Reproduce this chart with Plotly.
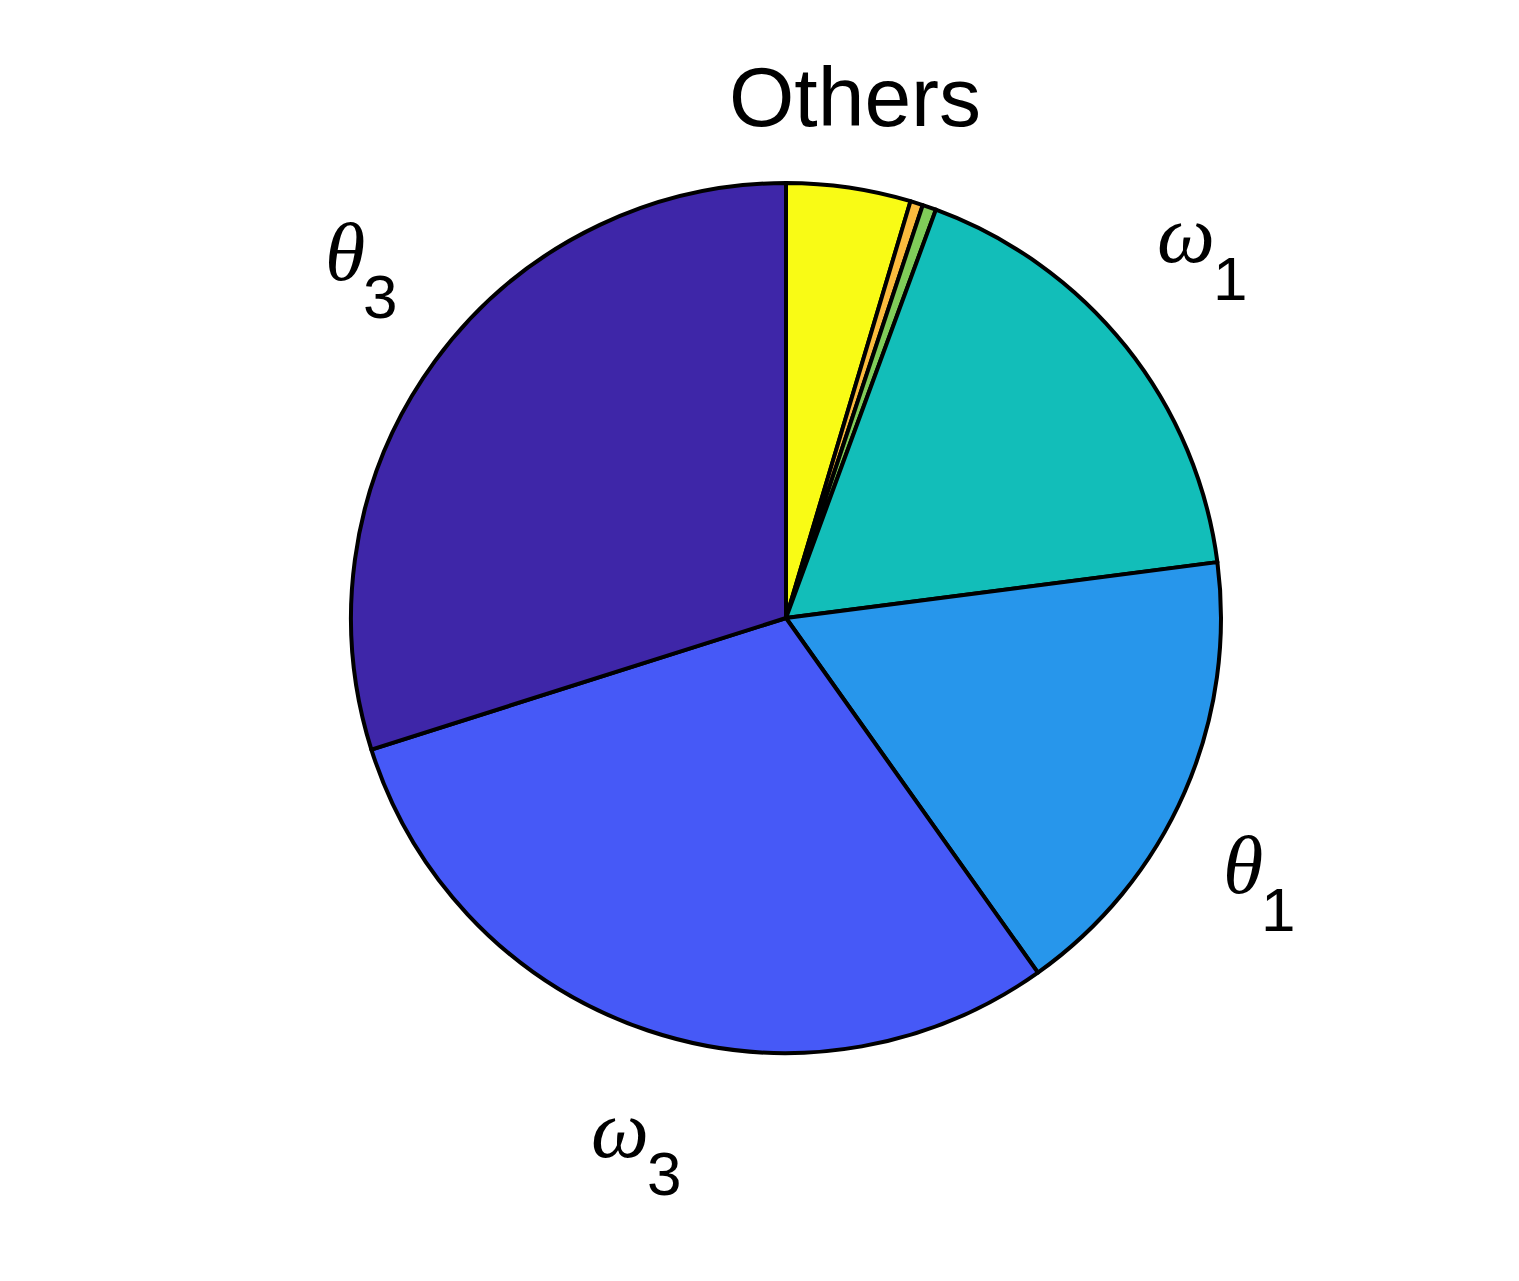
import math
import plotly.graph_objects as go

# ---- data ----
categories = ["Others", "Minor A", "Minor B", "ω1", "θ1", "ω3", "θ3"]
values = [4.62, 0.47, 0.51, 17.35, 17.22, 29.94, 29.89]
label_symbols = ["Others", "", "", "ω", "θ", "ω", "θ"]
label_subscripts = ["", "", "", "1", "1", "3", "3"]
colors = ["#F9FB15", "#FBBB3E", "#80CC59", "#12BEB9", "#2796EB", "#4659F7", "#3E26A8"]

# ---- layout / style ----
W, H = 1519, 1281
cx, cy, R = 786, 618, 435
SANS = "Liberation Sans, Arial, Helvetica, sans-serif"
SERIF = "Liberation Serif, Times New Roman, serif"
main_size, glyph_size, sub_size = 84, 82, 62
glyph_ink_h = {"θ": 58, "ω": 36}
glyph_ink_w = {"θ": 40, "ω": 50}
sub_ink_w = {"1": 22, "3": 32}
sub_drop = 38
# small per-label pixel nudges (label placement style only)
label_nudge_x = [-6, 0, 0, 7, -10, 20, -4]
label_nudge_y = [-4, 0, 0, 0, 0, 0, 0]


def paper(px, py):
    return px / W, 1 - py / H


fig = go.Figure(go.Pie(
    labels=categories,
    values=values,
    sort=False,
    direction="clockwise",
    rotation=0,
    textinfo="none",
    hoverinfo="label+percent",
    marker=dict(colors=colors, line=dict(color="black", width=4)),
    domain=dict(x=[(cx - R) / W, (cx + R) / W], y=[1 - (cy + R) / H, 1 - (cy - R) / H]),
    showlegend=False,
))

total = sum(values)
cum = 0.0
annotations = []
for i, (v, sym, sub) in enumerate(zip(values, label_symbols, label_subscripts)):
    mid = (cum + v / 2) / total * 2 * math.pi
    cum += v
    if not sym:
        continue
    px = cx + 1.2 * R * math.sin(mid) + label_nudge_x[i]
    py = cy - 1.2 * R * math.cos(mid) + label_nudge_y[i]
    if not sub:
        x, y = paper(px, py)
        annotations.append(dict(
            x=x, y=y, xref="paper", yref="paper", text=sym, showarrow=False,
            xanchor="center", yanchor="middle",
            font=dict(family=SANS, size=main_size, color="black"),
        ))
        continue
    # vertical placement: top half -> text bottom near anchor, bottom half -> text top near anchor
    if math.cos(mid) > 0:
        base = py + 8 - sub_drop
    else:
        base = py + 8 + glyph_ink_h[sym]
    split = px + (glyph_ink_w[sym] - sub_ink_w[sub]) / 2
    gx, gy = paper(split + 2, base - 0.3375 * glyph_size)
    annotations.append(dict(
        x=gx, y=gy, xref="paper", yref="paper", text="<i>" + sym + "</i>", showarrow=False,
        xanchor="right", yanchor="middle",
        font=dict(family=SERIF, size=glyph_size, color="black"),
    ))
    sx, sy = paper(split - 4, base + sub_drop - 0.3465 * sub_size)
    annotations.append(dict(
        x=sx, y=sy, xref="paper", yref="paper", text=sub, showarrow=False,
        xanchor="left", yanchor="middle",
        font=dict(family=SANS, size=sub_size, color="black"),
    ))

fig.update_layout(
    width=W, height=H,
    margin=dict(l=0, r=0, t=0, b=0),
    paper_bgcolor="white", plot_bgcolor="white",
    annotations=annotations,
)

fig.write_html("out.html")
